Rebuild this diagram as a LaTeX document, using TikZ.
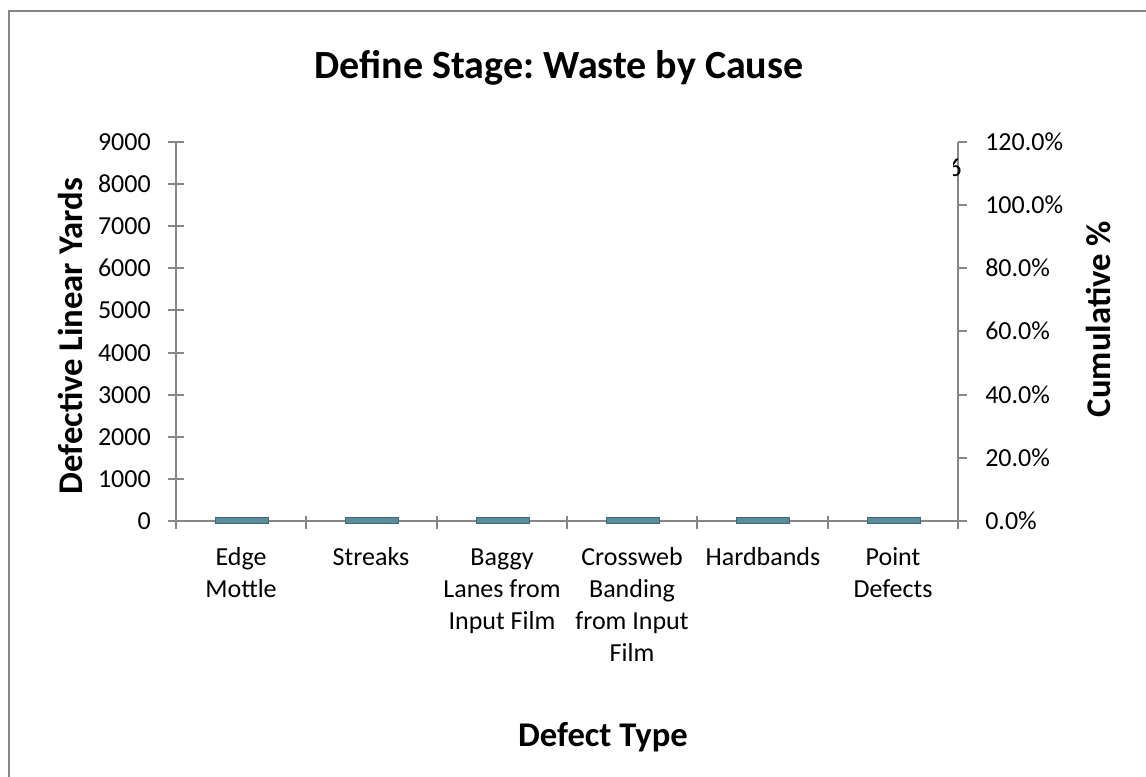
\documentclass[tikz,border=0pt]{standalone}
\usepackage{fontspec}
\setmainfont{Carlito}
\usetikzlibrary{positioning}
\frenchspacing

\definecolor{axisgray}{HTML}{868686}
\definecolor{barfill}{HTML}{5B8C9B}
\definecolor{baredge}{HTML}{3D6A78}

\tikzset{
  ticklabel/.style={inner sep=0pt, font=\fontsize{19.5}{24}\selectfont},
  catlabel/.style={inner sep=0pt, align=center, font=\fontsize{19.5}{24}\selectfont},
  axistitle/.style={inner sep=0pt, font=\fontsize{26}{30}\selectfont\bfseries},
  charttitle/.style={inner sep=0pt, font=\fontsize{30}{35}\selectfont\bfseries},
  axisline/.style={draw=axisgray, line width=1pt},
  bar/.style={fill=barfill, draw=baredge, line width=0.6pt}
}

\begin{document}
\begin{tikzpicture}[x=0.75pt, y=-0.75pt]
\clip (0,0) rectangle (1146,776);
\draw[axisgray, line width=1.5pt] (9,11) rectangle (1160,790);

% axes corners
\coordinate (O) at (176,521);
\coordinate (OT) at (176,142);
\coordinate (E) at (958,521);
\coordinate (ET) at (958,142);

\draw[axisline] (O) -- (OT);
\draw[axisline] (E) -- (ET);
\draw[axisline] (O) -- (E);

% left ticks
\coordinate (la0) at (168,521); \coordinate (lb0) at (184,521);
\coordinate (la1) at (168,479); \coordinate (lb1) at (184,479);
\coordinate (la2) at (168,437); \coordinate (lb2) at (184,437);
\coordinate (la3) at (168,395); \coordinate (lb3) at (184,395);
\coordinate (la4) at (168,353); \coordinate (lb4) at (184,353);
\coordinate (la5) at (168,310); \coordinate (lb5) at (184,310);
\coordinate (la6) at (168,268); \coordinate (lb6) at (184,268);
\coordinate (la7) at (168,226); \coordinate (lb7) at (184,226);
\coordinate (la8) at (168,184); \coordinate (lb8) at (184,184);
\coordinate (la9) at (168,142); \coordinate (lb9) at (184,142);
\draw[axisline] (la0) -- (lb0);
\draw[axisline] (la1) -- (lb1);
\draw[axisline] (la2) -- (lb2);
\draw[axisline] (la3) -- (lb3);
\draw[axisline] (la4) -- (lb4);
\draw[axisline] (la5) -- (lb5);
\draw[axisline] (la6) -- (lb6);
\draw[axisline] (la7) -- (lb7);
\draw[axisline] (la8) -- (lb8);
\draw[axisline] (la9) -- (lb9);

% right ticks
\coordinate (ra1) at (958,458); \coordinate (rb1) at (967,458);
\coordinate (ra2) at (958,395); \coordinate (rb2) at (967,395);
\coordinate (ra3) at (958,331); \coordinate (rb3) at (967,331);
\coordinate (ra4) at (958,268); \coordinate (rb4) at (967,268);
\coordinate (ra5) at (958,205); \coordinate (rb5) at (967,205);
\coordinate (rb0) at (967,521);
\coordinate (rb6) at (967,142);
\draw[axisline] (E) -- (rb0);
\draw[axisline] (ra1) -- (rb1);
\draw[axisline] (ra2) -- (rb2);
\draw[axisline] (ra3) -- (rb3);
\draw[axisline] (ra4) -- (rb4);
\draw[axisline] (ra5) -- (rb5);
\draw[axisline] (ET) -- (rb6);

% category ticks
\coordinate (ca0) at (176,516); \coordinate (cb0) at (176,529);
\coordinate (ca1) at (306,516); \coordinate (cb1) at (306,529);
\coordinate (ca2) at (437,516); \coordinate (cb2) at (437,529);
\coordinate (ca3) at (567,516); \coordinate (cb3) at (567,529);
\coordinate (ca4) at (697,516); \coordinate (cb4) at (697,529);
\coordinate (ca5) at (828,516); \coordinate (cb5) at (828,529);
\coordinate (ca6) at (958,516); \coordinate (cb6) at (958,529);
\draw[axisline] (ca0) -- (cb0);
\draw[axisline] (ca1) -- (cb1);
\draw[axisline] (ca2) -- (cb2);
\draw[axisline] (ca3) -- (cb3);
\draw[axisline] (ca4) -- (cb4);
\draw[axisline] (ca5) -- (cb5);
\draw[axisline] (ca6) -- (cb6);

% bars
\draw[bar] (215,517) rectangle (268,523);
\draw[bar] (345,517) rectangle (398,523);
\draw[bar] (476,517) rectangle (529,523);
\draw[bar] (606,517) rectangle (659,523);
\draw[bar] (736,517) rectangle (789,523);
\draw[bar] (867,517) rectangle (920,523);

% left labels
\node[ticklabel, anchor=east](L0) at (151,521) {0};
\node[ticklabel, anchor=east](L1) at (151,479) {1000};
\node[ticklabel, anchor=east](L2) at (151,437) {2000};
\node[ticklabel, anchor=east](L3) at (151,395) {3000};
\node[ticklabel, anchor=east](L4) at (151,353) {4000};
\node[ticklabel, anchor=east](L5) at (151,310) {5000};
\node[ticklabel, anchor=east](L6) at (151,268) {6000};
\node[ticklabel, anchor=east](L7) at (151,226) {7000};
\node[ticklabel, anchor=east](L8) at (151,184) {8000};
\node[ticklabel, anchor=east](L9) at (151,142) {9000};

% right labels
\node[ticklabel, anchor=west](R0) at (985,521) {0.0\%};
\node[ticklabel, anchor=west](R1) at (985,458) {20.0\%};
\node[ticklabel, anchor=west](R2) at (985,395) {40.0\%};
\node[ticklabel, anchor=west](R3) at (985,331) {60.0\%};
\node[ticklabel, anchor=west](R4) at (985,268) {80.0\%};
\node[ticklabel, anchor=west](R5) at (985,205) {100.0\%};
\node[ticklabel, anchor=west](R6) at (985,142) {120.0\%};

% clipped data label
\begin{scope}
\clip (953,150) rectangle (965,185);
\node[ticklabel](D1) at (955,168) {6};
\end{scope}

% categories
\node[catlabel, anchor=north](C1) at (241,543) {\strut Edge\\Mottle};
\node[catlabel, anchor=north](C2) at (371,543) {\strut Streaks};
\node[catlabel, anchor=north](C3) at (502,543) {\strut Baggy\\Lanes from\\Input Film};
\node[catlabel, anchor=north](C4) at (632,543) {\strut Crossweb\\Banding\\from Input\\Film};
\node[catlabel, anchor=north](C5) at (763,543) {\strut Hardbands};
\node[catlabel, anchor=north](C6) at (893,543) {\strut Point\\Defects};

% titles
\node[charttitle](T) at (559,68) {Define Stage: Waste by Cause};
\node[axistitle](XT) at (603,737) {Defect Type};
\node[axistitle, rotate=90](YL) at (70,336) {Defective Linear Yards};
\node[axistitle, rotate=90](YR) at (1098,319) {Cumulative \%};
\end{tikzpicture}
\end{document}
